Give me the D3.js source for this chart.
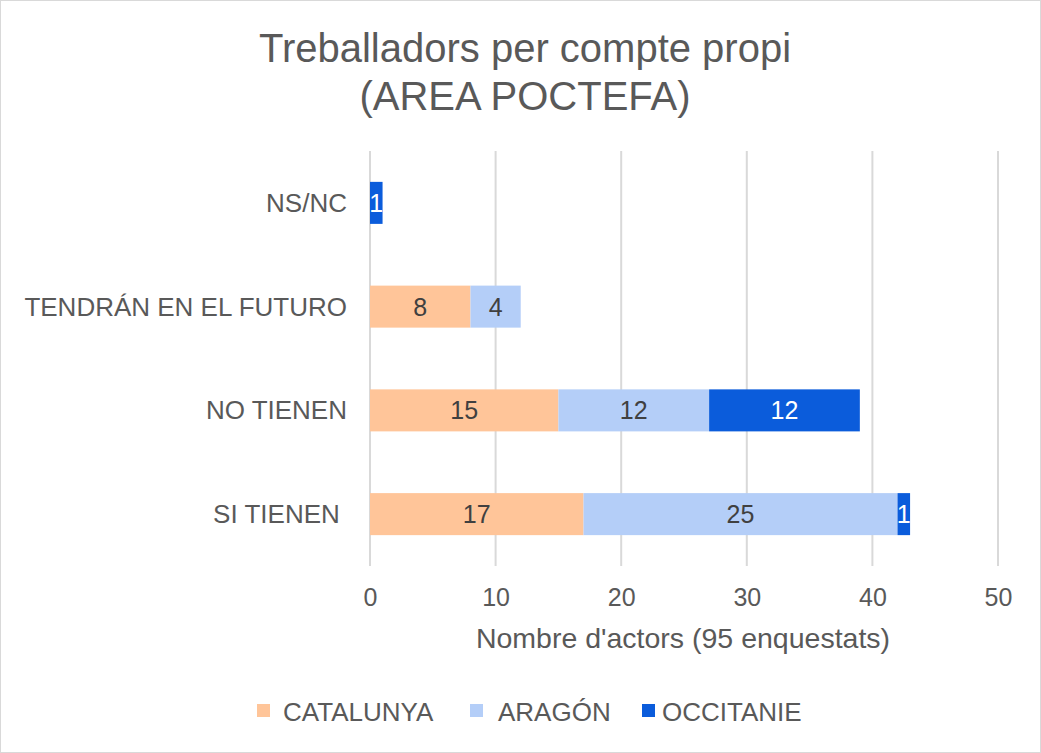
<!DOCTYPE html>
<html><head><meta charset="utf-8">
<script src="https://cdn.jsdelivr.net/npm/d3@7"></script>
<style>body{margin:0;background:#fff} .ylab text{white-space:pre}</style>
</head><body><svg id="c" width="1041" height="753" font-family="Arial, 'Liberation Sans', sans-serif"></svg>
<script>
const categories = ["NS/NC","TENDRÁN EN EL FUTURO","NO TIENEN","SI TIENEN "];
const seriesNames = ["CATALUNYA","ARAGÓN","OCCITANIE"];
const catalunya = [0,8,15,17];
const aragon = [0,4,12,25];
const occitanie = [1,0,12,1];
const xTicks = [0,10,20,30,40,50];
const colors = ["#FFC599","#B4CEF8","#0B5CDB"];
const labelColors = ["#404040","#404040","#ffffff"];
const FF = "Arial, 'Liberation Sans', sans-serif";

const svg = d3.select("#c");
svg.append("rect").attr("x",0.5).attr("y",0.5).attr("width",1040).attr("height",752)
  .attr("fill","#fff").attr("stroke","#d9d9d9");

svg.append("text").attr("x",525).attr("y",62).attr("text-anchor","middle")
  .attr("font-size",40).attr("fill","#595959").text("Treballadors per compte propi");
svg.append("text").attr("x",525).attr("y",110).attr("text-anchor","middle")
  .attr("font-size",40).attr("fill","#595959").text("(AREA POCTEFA)");

const x = d3.scaleLinear().domain([0,50]).range([370,998]);
const y = d3.scaleBand().domain(categories).range([151,566]).paddingInner(0.595).paddingOuter(0.2975);

svg.append("g").selectAll("line").data(xTicks).join("line")
  .attr("x1",d=>x(d)).attr("x2",d=>x(d)).attr("y1",151).attr("y2",566)
  .attr("stroke","#d9d9d9").attr("stroke-width",2);

const xAxis = d3.axisBottom(x).tickValues(xTicks).tickSize(0).tickPadding(0);
const gx = svg.append("g").attr("transform","translate(0,566)").call(xAxis);
gx.select(".domain").remove();
gx.selectAll("text").attr("font-size",25).attr("fill","#595959").attr("dy",0).attr("y",40)
  .attr("font-family",FF);

const yAxis = d3.axisLeft(y).tickSize(0).tickPadding(0);
const gy = svg.append("g").attr("class","ylab").attr("transform","translate(347,0)").call(yAxis);
gy.select(".domain").remove();
gy.selectAll("text").attr("font-size",26).attr("fill","#595959").attr("dy","0.35em")
  .attr("font-family",FF);

const data = categories.map((c,i)=>({cat:c,CATALUNYA:catalunya[i],"ARAGÓN":aragon[i],OCCITANIE:occitanie[i]}));
const stacked = d3.stack().keys(seriesNames)(data);

stacked.forEach((s,si)=>{
  const g = svg.append("g");
  g.selectAll("rect").data(s.filter(d=>d[1]-d[0]>0)).join("rect")
    .attr("x",d=>x(d[0])).attr("width",d=>x(d[1])-x(d[0]))
    .attr("y",d=>y(d.data.cat)).attr("height",y.bandwidth())
    .attr("fill",colors[si]);
  g.selectAll("text").data(s.filter(d=>d[1]-d[0]>0)).join("text")
    .attr("x",d=>(x(d[0])+x(d[1]))/2).attr("y",d=>y(d.data.cat)+y.bandwidth()/2)
    .attr("dy","0.36em").attr("text-anchor","middle").attr("font-size",25)
    .attr("fill",labelColors[si]).text(d=>d[1]-d[0]);
});

svg.append("text").attr("x",683).attr("y",648).attr("text-anchor","middle")
  .attr("font-size",28.5).attr("fill","#595959").text("Nombre d'actors (95 enquestats)");

const legRectX = [257,470,642];
const legTextX = [283,498,662];
seriesNames.forEach((n,i)=>{
  svg.append("rect").attr("x",legRectX[i]).attr("y",704).attr("width",13).attr("height",13).attr("fill",colors[i]);
  svg.append("text").attr("x",legTextX[i]).attr("y",721).attr("font-size",26).attr("fill","#595959").text(n);
});
</script></body></html>
